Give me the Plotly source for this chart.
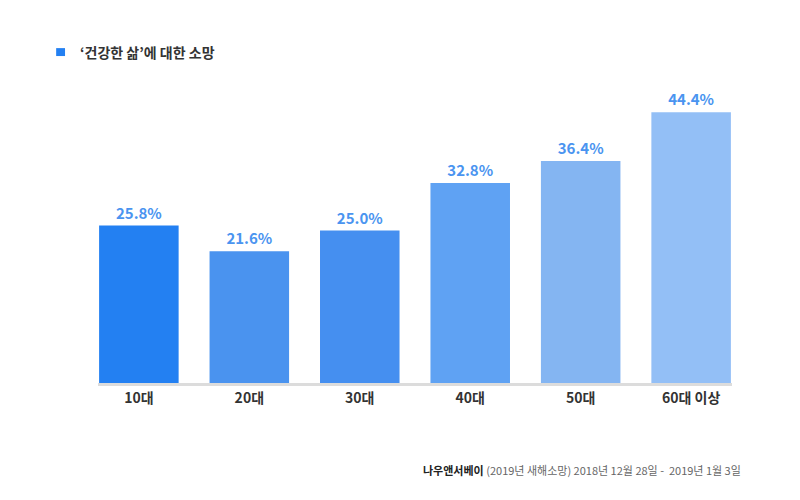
import plotly.graph_objects as go

categories = ['10대', '20대', '30대', '40대', '50대', '60대 이상']
values = [25.8, 21.6, 25.0, 32.8, 36.4, 44.4]
bar_colors = ['#2380f2', '#4a93ef', '#458ff0', '#5fa2f3', '#84b5f2', '#93bff6']

font = "Noto Sans CJK KR"

fig = go.Figure()
fig.add_trace(go.Bar(
    x=categories, y=values,
    marker=dict(color=bar_colors, line=dict(width=0)),
    text=[f"<b>{v:.1f}%</b>" for v in values],
    textposition='outside',
    textfont=dict(color='#4a94f0', size=15, family=font),
    cliponaxis=False,
    hoverinfo='skip'
))

fig.update_layout(
    width=800, height=500,
    margin=dict(l=90, r=76, t=70, b=125),
    plot_bgcolor='white', paper_bgcolor='white',
    bargap=0.28,
    showlegend=False,
    font=dict(family=font, color='#333'),
    xaxis=dict(range=[-0.37, 5.37], showline=True, linecolor='#dcdcdc', linewidth=3,
               tickfont=dict(size=14, color='#333', family=font), ticks='',
               tickvals=categories, ticktext=[f"<b>{c}</b>" for c in categories],
               showgrid=False, fixedrange=True),
    yaxis=dict(range=[0, 50], visible=False, fixedrange=True),
    shapes=[dict(type='rect', xref='paper', yref='paper', x0=-0.066, x1=-0.052,
                 y0=1.072, y1=1.098, fillcolor='#2380f2', line=dict(width=0))],
    annotations=[
        dict(text="<b>‘건강한 삶’에 대한 소망</b>", xref='paper', yref='paper',
             x=-0.032, y=1.085, xanchor='left', yanchor='middle', showarrow=False,
             font=dict(size=14, color='#333', family=font)),
        dict(text="<b>나우앤서베이</b> <span style='color:#666'>(2019년 새해소망) 2018년 12월 28일 -  2019년 1월 3일</span>",
             xref='paper', yref='paper', x=1.017, y=-0.285, xanchor='right', yanchor='middle',
             showarrow=False, font=dict(size=11, color='#222', family=font)),
    ]
)

fig.write_html("out.html")
